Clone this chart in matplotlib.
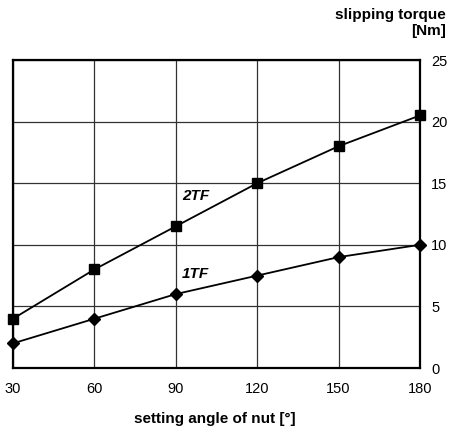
import matplotlib
matplotlib.use("Agg")
import matplotlib.pyplot as plt

angles = [30, 60, 90, 120, 150, 180]
torque_2tf = [4, 8, 11.5, 15, 18, 20.5]
torque_1tf = [2, 4, 6, 7.5, 9, 10]
y_ticks = [0, 5, 10, 15, 20, 25]

plt.rcParams['font.family'] = ['Liberation Sans', 'DejaVu Sans']

fig = plt.figure(figsize=(4.5, 4.33), dpi=100)
ax = fig.add_axes([13/450, 1-368/433, (420-13)/450, (368-60)/433])

ax.plot(angles, torque_2tf, color='black', lw=1.3, marker='s', ms=7, zorder=3, clip_on=False)
ax.plot(angles, torque_1tf, color='black', lw=1.3, marker='D', ms=6.5, zorder=3, clip_on=False)

ax.text(92.3, 14.0, '2TF', fontsize=11, fontweight='bold', fontstyle='italic', ha='left', va='center')
ax.text(92.3, 7.6, '1TF', fontsize=11, fontweight='bold', fontstyle='italic', ha='left', va='center')

ax.set_xlim(30, 180)
ax.set_ylim(0, 25)
ax.set_xticks(angles)
ax.set_yticks(y_ticks)
ax.yaxis.tick_right()
ax.tick_params(axis='both', length=0, labelsize=10.5)
ax.tick_params(axis='x', pad=10)
ax.tick_params(axis='y', pad=8)
ax.grid(True, color='#333333', lw=0.9)
ax.set_axisbelow(True)
for s in ax.spines.values():
    s.set_linewidth(1.6)
    s.set_color('black')

fig.text(215/450, 1-419/433, 'setting angle of nut [°]', fontsize=11, fontweight='bold',
         ha='center', va='center')
fig.text(446/450, 1-23/433, 'slipping torque\n[Nm]', fontsize=11, fontweight='bold',
         ha='right', va='center', linespacing=1.15)

fig.savefig('out.png', dpi=100)
